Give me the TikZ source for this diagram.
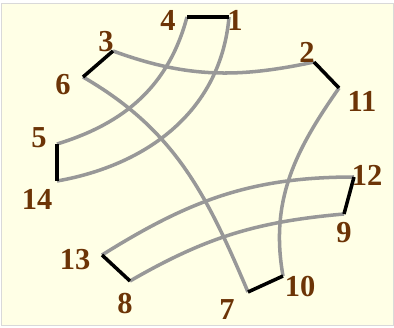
\documentclass[tikz,border=0pt]{standalone}
\usepackage{fontspec}
\setmainfont{Liberation Serif}
\definecolor{paper}{RGB}{255,255,230}
\definecolor{numbrown}{RGB}{108,52,6}
\definecolor{strandgray}{RGB}{152,152,152}
\begin{document}
\begin{tikzpicture}[x=0.03cm,y=0.03cm,
  strand/.style={draw=strandgray,line width=3pt},
  bar/.style={draw=black,line width=3pt},
  num/.style={text=numbrown,inner sep=0pt,font=\fontsize{26}{30}\selectfont\bfseries}]
\useasboundingbox (0,0) rectangle (394,327);
\fill[paper,draw=black!15] (1.5,1.5) rectangle (393,324);

% end points
\coordinate (p1) at (229,310);
\coordinate (p4) at (187,310);
\coordinate (p3) at (113,276);
\coordinate (p6) at (83,250);
\coordinate (p2) at (314,265);
\coordinate (p11) at (339,239);
\coordinate (p5) at (57,183);
\coordinate (p14) at (57,146);
\coordinate (p12) at (354,150);
\coordinate (p9) at (344,113);
\coordinate (p13) at (102,72);
\coordinate (p8) at (130,46);
\coordinate (p7) at (248,35);
\coordinate (p10) at (283,51);

% gray strands
\draw[strand] (p1) to[out=265,in=10] (p14);
\draw[strand] (p4) to[out=255,in=17] (p5);
\draw[strand] (p3) to[out=-20,in=192] (p2);
\draw[strand] (p6) to[out=-30,in=113] (p7);
\draw[strand] (p11) to[out=235,in=100] (p10);
\draw[strand] (p12) to[out=180,in=32] (p13);
\draw[strand] (p9) to[out=185,in=30] (p8);

% black bars
\draw[bar] (p4) -- (p1);
\draw[bar] (p3) -- (p6);
\draw[bar] (p2) -- (p11);
\draw[bar] (p5) -- (p14);
\draw[bar] (p12) -- (p9);
\draw[bar] (p13) -- (p8);
\draw[bar] (p7) -- (p10);

% numbers
\node[num] (n1) at (235,307) {1};
\node[num] (n2) at (307,275) {2};
\node[num] (n3) at (106,285) {3};
\node[num] (n4) at (168,307) {4};
\node[num] (n5) at (39,189) {5};
\node[num] (n6) at (63,242) {6};
\node[num] (n7) at (227,17) {7};
\node[num] (n8) at (125,23) {8};
\node[num] (n9) at (344,94) {9};
\node[num] (n10) at (300,40) {10};
\node[num] (n11) at (362,226) {11};
\node[num] (n12) at (367,152) {12};
\node[num] (n13) at (75,67) {13};
\node[num] (n14) at (37,128) {14};
\end{tikzpicture}
\end{document}
